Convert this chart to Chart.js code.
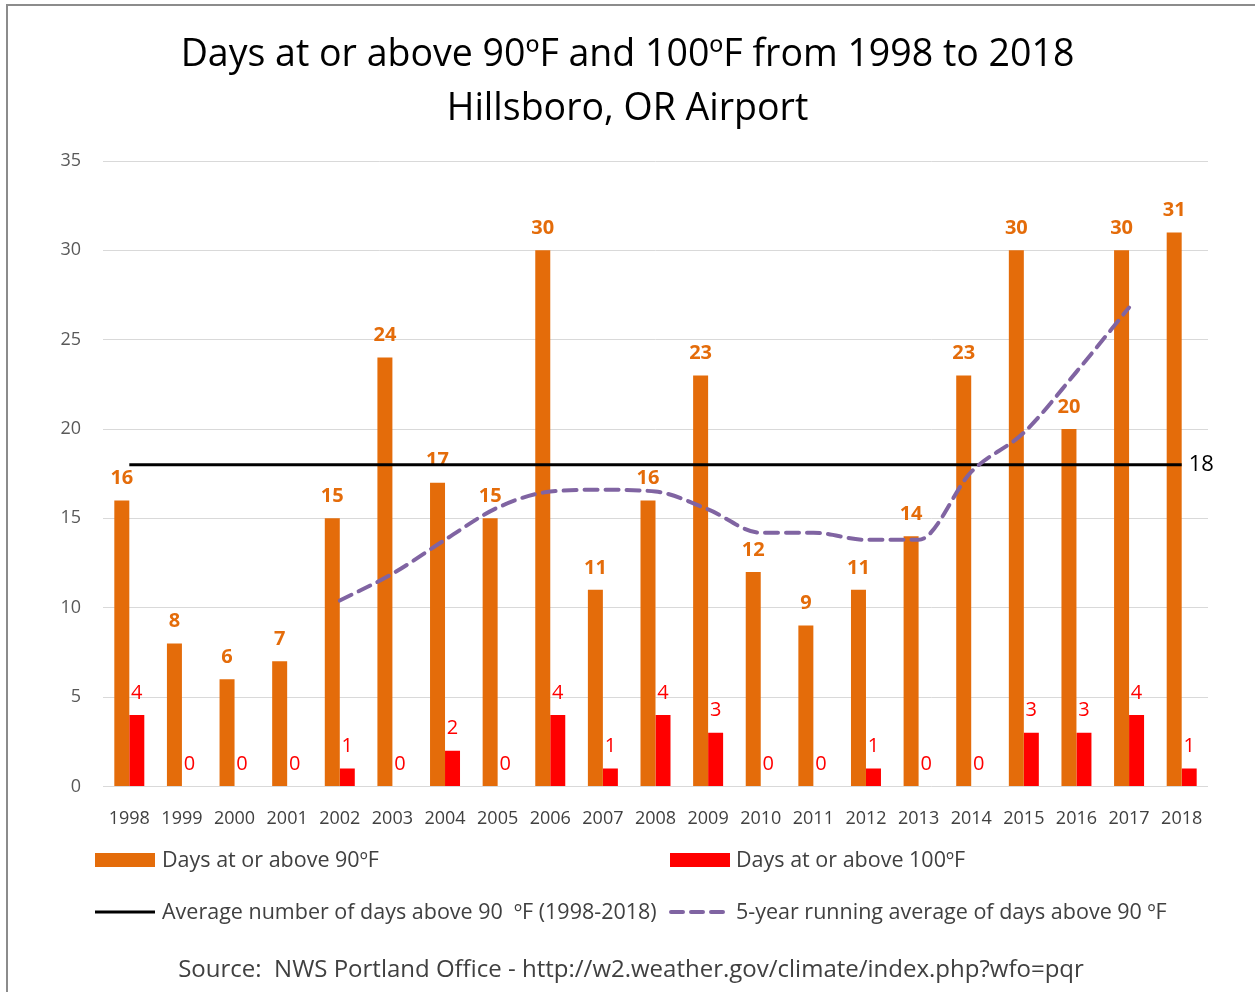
<!DOCTYPE html>
<html lang="en">
<head>
<meta charset="UTF-8">
<title>Days at or above 90ºF and 100ºF - Hillsboro</title>
<script src="https://cdn.jsdelivr.net/npm/chart.js"></script>
<style>
  html, body { margin: 0; padding: 0; background: #fff; }
  #wrap { position: relative; width: 1255px; height: 992px; }
</style>
</head>
<body>
<div id="wrap"><canvas id="heatChart" width="1255" height="992"></canvas></div>
<script>
// values
const years = ['1998','1999','2000','2001','2002','2003','2004','2005','2006','2007','2008',
               '2009','2010','2011','2012','2013','2014','2015','2016','2017','2018'];
const days90 = [16, 8, 6, 7, 15, 24, 17, 15, 30, 11, 16, 23, 12, 9, 11, 14, 23, 30, 20, 30, 31];
const days100 = [4, 0, 0, 0, 1, 0, 2, 0, 4, 1, 4, 3, 0, 0, 1, 0, 0, 3, 3, 4, 1];
const avgLine = [18, 18, 18, 18, 18, 18, 18, 18, 18, 18, 18, 18, 18, 18, 18, 18, 18, 18, 18, 18, 18];
const running5 = [null, null, null, null, 10.4, 11.9, 13.8, 15.6, 16.5, 16.6, 16.5,
                  15.5, 14.2, 14.2, 13.8, 13.8, 17.6, 19.8, 23.2, 26.8, null];
const yTicks = [0, 5, 10, 15, 20, 25, 30, 35];

const ORANGE = '#E46C0A';
const RED = '#FF0000';
const PURPLE = '#8064A2';
const FONT = '"Open Sans", "Noto Sans", sans-serif';

// value labels above the bars, drawn right after each bar set so the lines sit on top
const barLabels = {
  id: 'barLabels',
  afterDatasetDraw(chart, args) {
    if (args.index > 1) return;
    const ctx = chart.ctx;
    const meta = args.meta;
    const vals = chart.data.datasets[args.index].data;
    ctx.save();
    ctx.textAlign = 'center';
    ctx.textBaseline = 'middle';
    ctx.fillStyle = args.index === 0 ? ORANGE : RED;
    ctx.font = (args.index === 0 ? 'bold ' : '') + '20px ' + FONT;
    meta.data.forEach((bar, i) => {
      ctx.fillText(String(vals[i]), bar.x, bar.y - 22);
    });
    ctx.restore();
  }
};

// frame, "18" marker, legend and source line
const extras = {
  id: 'extras',
  beforeDraw(chart) {
    const ctx = chart.ctx;
    ctx.save();
    ctx.fillStyle = '#fff';
    ctx.fillRect(0, 0, chart.width, chart.height);
    ctx.fillStyle = '#8c8c8c';
    ctx.fillRect(6, 4, chart.width, 2);
    ctx.fillRect(6, 4, 2, chart.height);
    ctx.restore();
  },
  afterDraw(chart) {
    const ctx = chart.ctx;
    ctx.save();
    // avg value at end of line
    const avgMeta = chart.getDatasetMeta(2);
    const last = avgMeta.data[avgMeta.data.length - 1];
    ctx.fillStyle = '#000';
    ctx.font = '22px ' + FONT;
    ctx.textBaseline = 'middle';
    ctx.textAlign = 'left';
    ctx.fillText(String(avgLine[avgLine.length - 1]), last.x + 7, last.y);

    // legend
    ctx.font = '21.5px ' + FONT;
    const r1 = 860, r2 = 912;
    ctx.fillStyle = ORANGE;
    ctx.fillRect(95, r1 - 7, 60, 14);
    ctx.fillStyle = RED;
    ctx.fillRect(670, r1 - 7, 60, 14);
    ctx.fillStyle = '#404040';
    ctx.fillText(chart.data.datasets[0].label, 162, r1 + 1);
    ctx.fillText(chart.data.datasets[1].label, 736, r1 + 1);

    ctx.strokeStyle = '#000';
    ctx.lineWidth = 3;
    ctx.beginPath();
    ctx.moveTo(95, r2);
    ctx.lineTo(155, r2);
    ctx.stroke();
    ctx.strokeStyle = PURPLE;
    ctx.lineWidth = 4;
    ctx.lineCap = 'round';
    ctx.setLineDash([12, 8]);
    ctx.beginPath();
    ctx.moveTo(671, r2);
    ctx.lineTo(727, r2);
    ctx.stroke();
    ctx.setLineDash([]);
    ctx.fillText(chart.data.datasets[2].label, 162, r2 + 1);
    ctx.fillText(chart.data.datasets[3].label, 736, r2 + 1);

    // source
    ctx.font = '24px ' + FONT;
    ctx.textAlign = 'center';
    ctx.fillText('Source:  NWS Portland Office - http://w2.weather.gov/climate/index.php?wfo=pqr', 631, 970);
    ctx.restore();
  }
};

new Chart(document.getElementById('heatChart').getContext('2d'), {
  type: 'bar',
  data: {
    labels: years,
    datasets: [
      {
        label: 'Days at or above 90ºF',
        data: days90,
        backgroundColor: ORANGE,
        barPercentage: 1,
        categoryPercentage: 0.57,
        order: 2
      },
      {
        label: 'Days at or above 100ºF',
        data: days100,
        backgroundColor: RED,
        barPercentage: 1,
        categoryPercentage: 0.57,
        order: 2
      },
      {
        type: 'line',
        label: 'Average number of days above 90  ºF (1998-2018)',
        data: avgLine,
        borderColor: '#000',
        borderWidth: 3,
        pointRadius: 0,
        tension: 0,
        order: 1
      },
      {
        type: 'line',
        label: '5-year running average of days above 90 ºF',
        data: running5,
        borderColor: PURPLE,
        borderWidth: 4,
        borderDash: [13, 8],
        borderCapStyle: 'round',
        pointRadius: 0,
        cubicInterpolationMode: 'monotone',
        spanGaps: false,
        order: 0
      }
    ]
  },
  options: {
    responsive: false,
    animation: false,
    layout: { padding: { top: 0, right: 47, bottom: 140, left: 47 } },
    plugins: {
      legend: { display: false },
      tooltip: { enabled: false },
      title: {
        display: true,
        text: ['Days at or above 90ºF and 100ºF from 1998 to 2018', 'Hillsboro, OR Airport'],
        color: '#000',
        font: { family: FONT, size: 37.5, weight: 'normal', lineHeight: 1.44 },
        padding: { top: 28, bottom: 25 }
      }
    },
    scales: {
      x: {
        grid: { display: false, drawTicks: false },
        border: { display: false },
        ticks: { color: '#404040', font: { family: FONT, size: 18 }, padding: 22, maxRotation: 0 }
      },
      y: {
        min: 0,
        max: 35,
        afterBuildTicks(scale) { scale.ticks = yTicks.map(v => ({ value: v })); },
        afterFit(scale) { scale.width = 56; },
        grid: { color: '#d9d9d9', drawTicks: false },
        border: { display: false },
        ticks: { color: '#595959', font: { family: FONT, size: 18 }, padding: 22 }
      }
    }
  },
  plugins: [barLabels, extras]
});
</script>
</body>
</html>
